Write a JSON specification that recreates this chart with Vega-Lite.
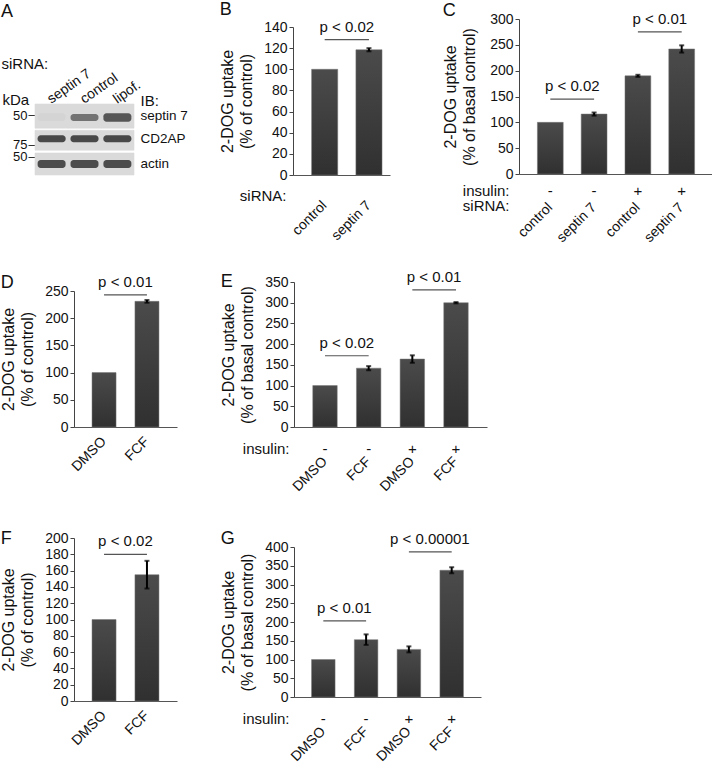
{
  "$schema": "https://vega.github.io/schema/vega-lite/v6.json",
  "padding": {"left": 0, "top": 1, "right": 0, "bottom": 0},
  "background": "white",
  "config": {
    "font": "Liberation Sans",
    "view": {"stroke": null},
    "title": {"fontSize": 18, "fontWeight": "normal", "anchor": "start", "frame": "bounds", "font": "Liberation Sans", "color": "#111"},
    "axis": {"grid": false, "labelFont": "Liberation Sans", "titleFont": "Liberation Sans", "labelFontSize": 14, "titleFontSize": 16, "titleFontWeight": "normal", "labelColor": "#111", "titleColor": "#111", "domainColor": "#444", "tickColor": "#444", "labelOverlap": false},
    "axisX": {"ticks": false, "tickSize": 0, "labelFontSize": 14, "domainColor": "#555"},
    "axisY": {"tickSize": 4, "labelPadding": 2, "titlePadding": 9, "titleLineHeight": 19}
  },
  "spacing": 24,
  "vconcat": [
    {
      "spacing": 52,
      "hconcat": [
        {
          "spacing": 31,
          "hconcat": [
            {
              "title": {"text": "A", "offset": -2},
              "width": 60,
              "height": 156,
              "layer": [
                {
                  "data": {"values": [
                    {"lane": "septin 7", "probe": "septin 7", "top": 0, "bottom": 0.34},
                    {"lane": "control", "probe": "septin 7", "top": 0, "bottom": 0.34},
                    {"lane": "lipof.", "probe": "septin 7", "top": 0, "bottom": 0.34},
                    {"lane": "septin 7", "probe": "CD2AP", "top": 0.37, "bottom": 0.65},
                    {"lane": "control", "probe": "CD2AP", "top": 0.37, "bottom": 0.65},
                    {"lane": "lipof.", "probe": "CD2AP", "top": 0.37, "bottom": 0.65},
                    {"lane": "septin 7", "probe": "actin", "top": 0.69, "bottom": 1},
                    {"lane": "control", "probe": "actin", "top": 0.69, "bottom": 1},
                    {"lane": "lipof.", "probe": "actin", "top": 0.69, "bottom": 1}
                  ]},
                  "mark": {"type": "rect", "fill": "#dadada", "stroke": "#dadada", "strokeWidth": 0.6},
                  "encoding": {
                    "x": {"field": "lane", "type": "nominal", "sort": null, "scale": {"domain": ["septin 7", "control", "lipof."], "range": [-39, 60], "paddingInner": 0, "paddingOuter": 0}, "axis": null},
                    "y": {"field": "top", "type": "quantitative", "scale": {"domain": [0, 1], "range": [85, 156], "nice": false, "zero": false},
                      "axis": {"orient": "left", "offset": 39, "values": [0.155, 0.577, 0.746], "labelExpr": "datum.value > 0.5 && datum.value < 0.7 ? '75' : '50'", "domain": false, "tickSize": 7, "tickColor": "#333", "labelPadding": 1, "labelFontSize": 13, "title": "kDa", "titleAngle": 0, "titleAlign": "left", "titleBaseline": "middle", "titleX": -33, "titleY": 80, "titleFontSize": 15}},
                    "y2": {"field": "bottom"}
                  }
                },
                {
                  "data": {"values": [
                    {"lane": "septin 7", "probe": "septin 7", "top": 0.13, "bottom": 0.24, "intensity": 0.03},
                    {"lane": "control", "probe": "septin 7", "top": 0.14, "bottom": 0.24, "intensity": 0.55},
                    {"lane": "lipof.", "probe": "septin 7", "top": 0.13, "bottom": 0.25, "intensity": 0.72},
                    {"lane": "septin 7", "probe": "CD2AP", "top": 0.44, "bottom": 0.54, "intensity": 0.8},
                    {"lane": "control", "probe": "CD2AP", "top": 0.44, "bottom": 0.54, "intensity": 0.8},
                    {"lane": "lipof.", "probe": "CD2AP", "top": 0.44, "bottom": 0.54, "intensity": 0.8},
                    {"lane": "septin 7", "probe": "actin", "top": 0.79, "bottom": 0.9, "intensity": 0.78},
                    {"lane": "control", "probe": "actin", "top": 0.79, "bottom": 0.9, "intensity": 0.78},
                    {"lane": "lipof.", "probe": "actin", "top": 0.79, "bottom": 0.9, "intensity": 0.78}
                  ]},
                  "mark": {"type": "rect", "cornerRadius": 3},
                  "encoding": {
                    "x": {"field": "lane", "type": "nominal", "sort": null, "scale": {"domain": ["septin 7", "control", "lipof."], "range": [-39, 60], "paddingInner": 0.15, "paddingOuter": 0.08}, "axis": null},
                    "y": {"field": "top", "type": "quantitative",
                      "axis": {"orient": "right", "values": [0.155, 0.49, 0.845], "labelExpr": "datum.value < 0.3 ? 'septin 7' : datum.value < 0.7 ? 'CD2AP' : 'actin'", "domain": false, "ticks": false, "tickSize": 0, "labelPadding": 6, "labelFontSize": 13.5, "title": "IB:", "titleAngle": 0, "titleAlign": "left", "titleBaseline": "middle", "titleX": 6, "titleY": 81, "titleFontSize": 15}},
                    "y2": {"field": "bottom"},
                    "color": {"field": "intensity", "type": "quantitative", "scale": {"domain": [0, 1], "range": ["#dadada", "#2a2a2a"]}, "legend": null}
                  }
                },
                {
                  "data": {"values": [{"lane": "septin 7"}, {"lane": "control"}, {"lane": "lipof."}]},
                  "mark": {"type": "text", "angle": -35, "align": "left", "baseline": "middle", "fontSize": 14, "color": "#111", "dx": -3},
                  "encoding": {
                    "x": {"field": "lane", "type": "nominal", "sort": null, "scale": {"domain": ["septin 7", "control", "lipof."], "range": [-39, 60], "paddingInner": 0.15, "paddingOuter": 0.08},
                      "axis": {"orient": "top", "labels": false, "domain": false, "ticks": false, "title": "siRNA:", "titleAngle": 0, "titleAlign": "left", "titleBaseline": "middle", "titleX": -73, "titleY": 44, "titleFontSize": 15}},
                    "y": {"datum": -0.07, "type": "quantitative", "axis": null},
                    "text": {"field": "lane"}
                  }
                }
              ],
              "resolve": {"scale": {"x": "independent"}, "axis": {"x": "independent", "y": "independent"}}
            },
            {
              "title": {"text": "B", "offset": 0},
              "width": 97,
              "height": 156,
              "data": {"values": [
                {"siRNA": "control", "value": 100, "err": 0},
                {"siRNA": "septin 7", "value": 118.5, "err": 1.5}
              ]},
              "layer": [
                {
                  "mark": {"type": "bar", "fill": {"gradient": "linear", "x1": 0, "y1": 0, "x2": 0, "y2": 1, "stops": [{"offset": 0, "color": "#4b4b4b"}, {"offset": 1, "color": "#303030"}]}, "stroke": "#777", "strokeWidth": 0.5},
                  "encoding": {
                    "x": {"field": "siRNA", "type": "nominal", "scale": {"domain": ["control", "septin 7"], "paddingInner": 0.41, "paddingOuter": 0.3, "align": 0.7},
                      "axis": {"title": "siRNA:", "titleX": -7, "titleY": 20, "titleAlign": "right", "titleAngle": 0, "titleBaseline": "middle", "titleFontSize": 15, "labelAngle": -45, "labelAlign": "right", "labelBaseline": "middle", "labelPadding": 28}},
                    "y": {"field": "value", "type": "quantitative", "scale": {"domain": [0, 140], "nice": false, "range": [156, 8]},
                      "axis": {"values": [0, 20, 40, 60, 80, 100, 120, 140], "title": ["2-DOG uptake", "(% of control)"]}}
                  }
                },
                {
                  "transform": [{"filter": "datum.err > 0"}],
                  "mark": {"type": "errorbar", "ticks": true, "size": 5, "thickness": 2, "color": "#000"},
                  "encoding": {
                    "x": {"field": "siRNA", "type": "nominal", "axis": null},
                    "y": {"field": "value", "type": "quantitative", "axis": null},
                    "yError": {"field": "err"}
                  }
                },
                {
                  "data": {"values": [{"from": "control", "to": "septin 7", "level": 128, "label": "p < 0.02"}]},
                  "mark": {"type": "rule", "color": "#555", "strokeWidth": 1.2},
                  "encoding": {"x": {"field": "from", "type": "nominal", "axis": null}, "x2": {"field": "to"}, "y": {"field": "level", "type": "quantitative", "axis": null}}
                },
                {
                  "data": {"values": [{"from": "control", "to": "septin 7", "level": 128, "label": "p < 0.02"}]},
                  "mark": {"type": "text", "fontSize": 15, "baseline": "alphabetic", "dy": -8, "align": "center", "color": "#111"},
                  "encoding": {"x": {"field": "from", "type": "nominal", "bandPosition": 1.35, "axis": null}, "y": {"field": "level", "type": "quantitative", "axis": null}, "text": {"field": "label"}}
                }
              ],
              "resolve": {"axis": {"x": "independent", "y": "independent"}}
            }
          ]
        },
        {
          "title": {"text": "C", "offset": -8},
          "width": 194,
          "height": 155,
          "data": {"values": [
            {"siRNA": "control", "insulin": "-", "group": "control / -", "value": 100, "err": 0},
            {"siRNA": "septin 7", "insulin": "-", "group": "septin 7 / -", "value": 116, "err": 3},
            {"siRNA": "control", "insulin": "+", "group": "control / +", "value": 190, "err": 2},
            {"siRNA": "septin 7", "insulin": "+", "group": "septin 7 / +", "value": 242, "err": 7}
          ]},
          "layer": [
            {
              "mark": {"type": "bar", "fill": {"gradient": "linear", "x1": 0, "y1": 0, "x2": 0, "y2": 1, "stops": [{"offset": 0, "color": "#4b4b4b"}, {"offset": 1, "color": "#303030"}]}, "stroke": "#777", "strokeWidth": 0.5},
              "encoding": {
                "x": {"field": "group", "type": "nominal", "scale": {"domain": ["control / -", "septin 7 / -", "control / +", "septin 7 / +"], "paddingInner": 0.41, "paddingOuter": 0.42},
                  "axis": {"orient": "bottom", "domain": false, "labelExpr": "split(datum.value, ' / ')[0]", "title": "siRNA:", "titleX": -10, "titleY": 31, "titleAlign": "right", "titleAngle": 0, "titleBaseline": "middle", "titleFontSize": 15, "labelAngle": -45, "labelAlign": "right", "labelBaseline": "middle", "labelPadding": 31}},
                "y": {"field": "value", "type": "quantitative", "scale": {"domain": [0, 300], "nice": false},
                  "axis": {"values": [0, 50, 100, 150, 200, 250, 300], "titlePadding": 12, "title": ["2-DOG uptake", "(% of basal control)"]}}
              }
            },
            {
              "transform": [{"filter": "datum.err > 0"}],
              "mark": {"type": "errorbar", "ticks": true, "size": 5, "thickness": 2, "color": "#000"},
              "encoding": {
                "x": {"field": "group", "type": "nominal", "axis": null},
                "y": {"field": "value", "type": "quantitative", "axis": null},
                "yError": {"field": "err"}
              }
            },
            {
              "data": {"values": [
                {"from": "control / -", "to": "septin 7 / -", "level": 145, "label": "p < 0.02"},
                {"from": "control / +", "to": "septin 7 / +", "level": 275, "label": "p < 0.01"}
              ]},
              "mark": {"type": "rule", "color": "#555", "strokeWidth": 1.2},
              "encoding": {
                "x": {"field": "from", "type": "nominal",
                  "axis": {"orient": "bottom", "domain": true, "labelExpr": "split(datum.value, ' / ')[1]", "labelAngle": 0, "labelAlign": "center", "labelBaseline": "middle", "labelPadding": 16, "labelFontSize": 15, "title": "insulin:", "titleX": -10, "titleY": 16, "titleAlign": "right", "titleAngle": 0, "titleBaseline": "middle", "titleFontSize": 15}},
                "x2": {"field": "to"},
                "y": {"field": "level", "type": "quantitative", "axis": null}
              }
            },
            {
              "data": {"values": [
                {"from": "control / -", "to": "septin 7 / -", "level": 145, "label": "p < 0.02"},
                {"from": "control / +", "to": "septin 7 / +", "level": 275, "label": "p < 0.01"}
              ]},
              "mark": {"type": "text", "fontSize": 15, "baseline": "alphabetic", "dy": -8, "align": "center", "color": "#111"},
              "encoding": {
                "x": {"field": "from", "type": "nominal", "bandPosition": 1.35, "axis": null},
                "y": {"field": "level", "type": "quantitative", "axis": null},
                "text": {"field": "label"}
              }
            }
          ],
          "resolve": {"axis": {"x": "independent", "y": "independent"}}
        }
      ]
    },
    {
      "spacing": 43,
      "hconcat": [
        {
          "spacing": 56,
          "vconcat": [
            {
              "title": {"text": "D", "offset": -17},
              "width": 103,
              "height": 145,
              "data": {"values": [
                {"treatment": "DMSO", "value": 100, "err": 0},
                {"treatment": "FCF", "value": 231, "err": 2.5}
              ]},
              "layer": [
                {
                  "mark": {"type": "bar", "fill": {"gradient": "linear", "x1": 0, "y1": 0, "x2": 0, "y2": 1, "stops": [{"offset": 0, "color": "#4b4b4b"}, {"offset": 1, "color": "#303030"}]}, "stroke": "#777", "strokeWidth": 0.5},
                  "encoding": {
                    "x": {"field": "treatment", "type": "nominal", "scale": {"domain": ["DMSO", "FCF"], "paddingInner": 0.44, "paddingOuter": 0.42},
                      "axis": {"title": null, "labelAngle": -45, "labelAlign": "right", "labelBaseline": "middle", "labelPadding": 12}},
                    "y": {"field": "value", "type": "quantitative", "scale": {"domain": [0, 250], "nice": false, "range": [145, 9]},
                      "axis": {"values": [0, 50, 100, 150, 200, 250], "title": ["2-DOG uptake", "(% of control)"]}}
                  }
                },
                {
                  "transform": [{"filter": "datum.err > 0"}],
                  "mark": {"type": "errorbar", "ticks": true, "size": 5, "thickness": 2, "color": "#000"},
                  "encoding": {
                    "x": {"field": "treatment", "type": "nominal", "axis": null},
                    "y": {"field": "value", "type": "quantitative", "axis": null},
                    "yError": {"field": "err"}
                  }
                },
                {
                  "data": {"values": [{"from": "DMSO", "to": "FCF", "level": 243, "label": "p < 0.01"}]},
                  "mark": {"type": "rule", "color": "#555", "strokeWidth": 1.2},
                  "encoding": {"x": {"field": "from", "type": "nominal", "axis": null}, "x2": {"field": "to"}, "y": {"field": "level", "type": "quantitative", "axis": null}}
                },
                {
                  "data": {"values": [{"from": "DMSO", "to": "FCF", "level": 243, "label": "p < 0.01"}]},
                  "mark": {"type": "text", "fontSize": 15, "baseline": "alphabetic", "dy": -8, "align": "center", "color": "#111"},
                  "encoding": {"x": {"field": "from", "type": "nominal", "bandPosition": 1.39, "axis": null}, "y": {"field": "level", "type": "quantitative", "axis": null}, "text": {"field": "label"}}
                }
              ],
              "resolve": {"axis": {"x": "independent", "y": "independent"}}
            },
            {
              "title": {"text": "F", "offset": -17},
              "width": 103,
              "height": 163,
              "data": {"values": [
                {"treatment": "DMSO", "value": 100, "err": 0},
                {"treatment": "FCF", "value": 155, "err": 17}
              ]},
              "layer": [
                {
                  "mark": {"type": "bar", "fill": {"gradient": "linear", "x1": 0, "y1": 0, "x2": 0, "y2": 1, "stops": [{"offset": 0, "color": "#4b4b4b"}, {"offset": 1, "color": "#303030"}]}, "stroke": "#777", "strokeWidth": 0.5},
                  "encoding": {
                    "x": {"field": "treatment", "type": "nominal", "scale": {"domain": ["DMSO", "FCF"], "paddingInner": 0.44, "paddingOuter": 0.42},
                      "axis": {"title": null, "labelAngle": -45, "labelAlign": "right", "labelBaseline": "middle", "labelPadding": 12}},
                    "y": {"field": "value", "type": "quantitative", "scale": {"domain": [0, 200], "nice": false},
                      "axis": {"values": [0, 20, 40, 60, 80, 100, 120, 140, 160, 180, 200], "title": ["2-DOG uptake", "(% of control)"]}}
                  }
                },
                {
                  "transform": [{"filter": "datum.err > 0"}],
                  "mark": {"type": "errorbar", "ticks": true, "size": 5, "thickness": 2, "color": "#000"},
                  "encoding": {
                    "x": {"field": "treatment", "type": "nominal", "axis": null},
                    "y": {"field": "value", "type": "quantitative", "axis": null},
                    "yError": {"field": "err"}
                  }
                },
                {
                  "data": {"values": [{"from": "DMSO", "to": "FCF", "level": 180, "label": "p < 0.02"}]},
                  "mark": {"type": "rule", "color": "#555", "strokeWidth": 1.2},
                  "encoding": {"x": {"field": "from", "type": "nominal", "axis": null}, "x2": {"field": "to"}, "y": {"field": "level", "type": "quantitative", "axis": null}}
                },
                {
                  "data": {"values": [{"from": "DMSO", "to": "FCF", "level": 180, "label": "p < 0.02"}]},
                  "mark": {"type": "text", "fontSize": 15, "baseline": "alphabetic", "dy": -8, "align": "center", "color": "#111"},
                  "encoding": {"x": {"field": "from", "type": "nominal", "bandPosition": 1.39, "axis": null}, "y": {"field": "level", "type": "quantitative", "axis": null}, "text": {"field": "label"}}
                }
              ],
              "resolve": {"axis": {"x": "independent", "y": "independent"}}
            }
          ]
        },
        {
          "spacing": 35,
          "vconcat": [
            {
              "title": {"text": "E", "offset": -21},
              "width": 193,
              "height": 145,
              "data": {"values": [
                {"treatment": "DMSO", "insulin": "-", "group": "DMSO / -", "value": 100, "err": 0},
                {"treatment": "FCF", "insulin": "-", "group": "FCF / -", "value": 142, "err": 5},
                {"treatment": "DMSO", "insulin": "+", "group": "DMSO / +", "value": 164, "err": 9},
                {"treatment": "FCF", "insulin": "+", "group": "FCF / +", "value": 300, "err": 1.5}
              ]},
              "layer": [
                {
                  "mark": {"type": "bar", "fill": {"gradient": "linear", "x1": 0, "y1": 0, "x2": 0, "y2": 1, "stops": [{"offset": 0, "color": "#4b4b4b"}, {"offset": 1, "color": "#303030"}]}, "stroke": "#777", "strokeWidth": 0.5},
                  "encoding": {
                    "x": {"field": "group", "type": "nominal", "scale": {"domain": ["DMSO / -", "FCF / -", "DMSO / +", "FCF / +"], "paddingInner": 0.44, "paddingOuter": 0.43},
                      "axis": {"orient": "bottom", "domain": false, "labelExpr": "split(datum.value, ' / ')[0]", "title": null, "labelAngle": -45, "labelAlign": "right", "labelBaseline": "middle", "labelPadding": 32}},
                    "y": {"field": "value", "type": "quantitative", "scale": {"domain": [0, 350], "nice": false},
                      "axis": {"values": [0, 50, 100, 150, 200, 250, 300, 350], "title": ["2-DOG uptake", "(% of basal control)"]}}
                  }
                },
                {
                  "transform": [{"filter": "datum.err > 0"}],
                  "mark": {"type": "errorbar", "ticks": true, "size": 5, "thickness": 2, "color": "#000"},
                  "encoding": {
                    "x": {"field": "group", "type": "nominal", "axis": null},
                    "y": {"field": "value", "type": "quantitative", "axis": null},
                    "yError": {"field": "err"}
                  }
                },
                {
                  "data": {"values": [
                    {"from": "DMSO / -", "to": "FCF / -", "level": 172, "label": "p < 0.02"},
                    {"from": "DMSO / +", "to": "FCF / +", "level": 331, "label": "p < 0.01"}
                  ]},
                  "mark": {"type": "rule", "color": "#555", "strokeWidth": 1.2},
                  "encoding": {
                    "x": {"field": "from", "type": "nominal",
                      "axis": {"orient": "bottom", "domain": true, "labelExpr": "split(datum.value, ' / ')[1]", "labelAngle": 0, "labelAlign": "center", "labelBaseline": "middle", "labelPadding": 21, "labelFontSize": 15, "title": "insulin:", "titleX": -5, "titleY": 21, "titleAlign": "right", "titleAngle": 0, "titleBaseline": "middle", "titleFontSize": 15}},
                    "x2": {"field": "to"},
                    "y": {"field": "level", "type": "quantitative", "axis": null}
                  }
                },
                {
                  "data": {"values": [
                    {"from": "DMSO / -", "to": "FCF / -", "level": 172, "label": "p < 0.02"},
                    {"from": "DMSO / +", "to": "FCF / +", "level": 331, "label": "p < 0.01"}
                  ]},
                  "mark": {"type": "text", "fontSize": 15, "baseline": "alphabetic", "dy": -8, "align": "center", "color": "#111"},
                  "encoding": {
                    "x": {"field": "from", "type": "nominal", "bandPosition": 1.39, "axis": null},
                    "y": {"field": "level", "type": "quantitative", "axis": null},
                    "text": {"field": "label"}
                  }
                }
              ],
              "resolve": {"axis": {"x": "independent", "y": "independent"}}
            },
            {
              "title": {"text": "G", "offset": -16},
              "width": 187,
              "height": 150,
              "data": {"values": [
                {"treatment": "DMSO", "insulin": "-", "group": "DMSO / -", "value": 100, "err": 0},
                {"treatment": "FCF", "insulin": "-", "group": "FCF / -", "value": 153, "err": 14},
                {"treatment": "DMSO", "insulin": "+", "group": "DMSO / +", "value": 127, "err": 8},
                {"treatment": "FCF", "insulin": "+", "group": "FCF / +", "value": 338, "err": 8}
              ]},
              "layer": [
                {
                  "mark": {"type": "bar", "fill": {"gradient": "linear", "x1": 0, "y1": 0, "x2": 0, "y2": 1, "stops": [{"offset": 0, "color": "#4b4b4b"}, {"offset": 1, "color": "#303030"}]}, "stroke": "#777", "strokeWidth": 0.5},
                  "encoding": {
                    "x": {"field": "group", "type": "nominal", "scale": {"domain": ["DMSO / -", "FCF / -", "DMSO / +", "FCF / +"], "paddingInner": 0.45, "paddingOuter": 0.41},
                      "axis": {"orient": "bottom", "domain": false, "labelExpr": "split(datum.value, ' / ')[0]", "title": null, "labelAngle": -45, "labelAlign": "right", "labelBaseline": "middle", "labelPadding": 32}},
                    "y": {"field": "value", "type": "quantitative", "scale": {"domain": [0, 400], "nice": false},
                      "axis": {"values": [0, 50, 100, 150, 200, 250, 300, 350, 400], "title": ["2-DOG uptake", "(% of basal control)"]}}
                  }
                },
                {
                  "transform": [{"filter": "datum.err > 0"}],
                  "mark": {"type": "errorbar", "ticks": true, "size": 5, "thickness": 2, "color": "#000"},
                  "encoding": {
                    "x": {"field": "group", "type": "nominal", "axis": null},
                    "y": {"field": "value", "type": "quantitative", "axis": null},
                    "yError": {"field": "err"}
                  }
                },
                {
                  "data": {"values": [
                    {"from": "DMSO / -", "to": "FCF / -", "level": 203, "label": "p < 0.01"},
                    {"from": "DMSO / +", "to": "FCF / +", "level": 387, "label": "p < 0.00001"}
                  ]},
                  "mark": {"type": "rule", "color": "#555", "strokeWidth": 1.2},
                  "encoding": {
                    "x": {"field": "from", "type": "nominal",
                      "axis": {"orient": "bottom", "domain": true, "labelExpr": "split(datum.value, ' / ')[1]", "labelAngle": 0, "labelAlign": "center", "labelBaseline": "middle", "labelPadding": 21, "labelFontSize": 15, "title": "insulin:", "titleX": -5, "titleY": 21, "titleAlign": "right", "titleAngle": 0, "titleBaseline": "middle", "titleFontSize": 15}},
                    "x2": {"field": "to"},
                    "y": {"field": "level", "type": "quantitative", "axis": null}
                  }
                },
                {
                  "data": {"values": [
                    {"from": "DMSO / -", "to": "FCF / -", "level": 203, "label": "p < 0.01"},
                    {"from": "DMSO / +", "to": "FCF / +", "level": 387, "label": "p < 0.00001"}
                  ]},
                  "mark": {"type": "text", "fontSize": 15, "baseline": "alphabetic", "dy": -8, "align": "center", "color": "#111"},
                  "encoding": {
                    "x": {"field": "from", "type": "nominal", "bandPosition": 1.39, "axis": null},
                    "y": {"field": "level", "type": "quantitative", "axis": null},
                    "text": {"field": "label"}
                  }
                }
              ],
              "resolve": {"axis": {"x": "independent", "y": "independent"}}
            }
          ]
        }
      ]
    }
  ]
}
